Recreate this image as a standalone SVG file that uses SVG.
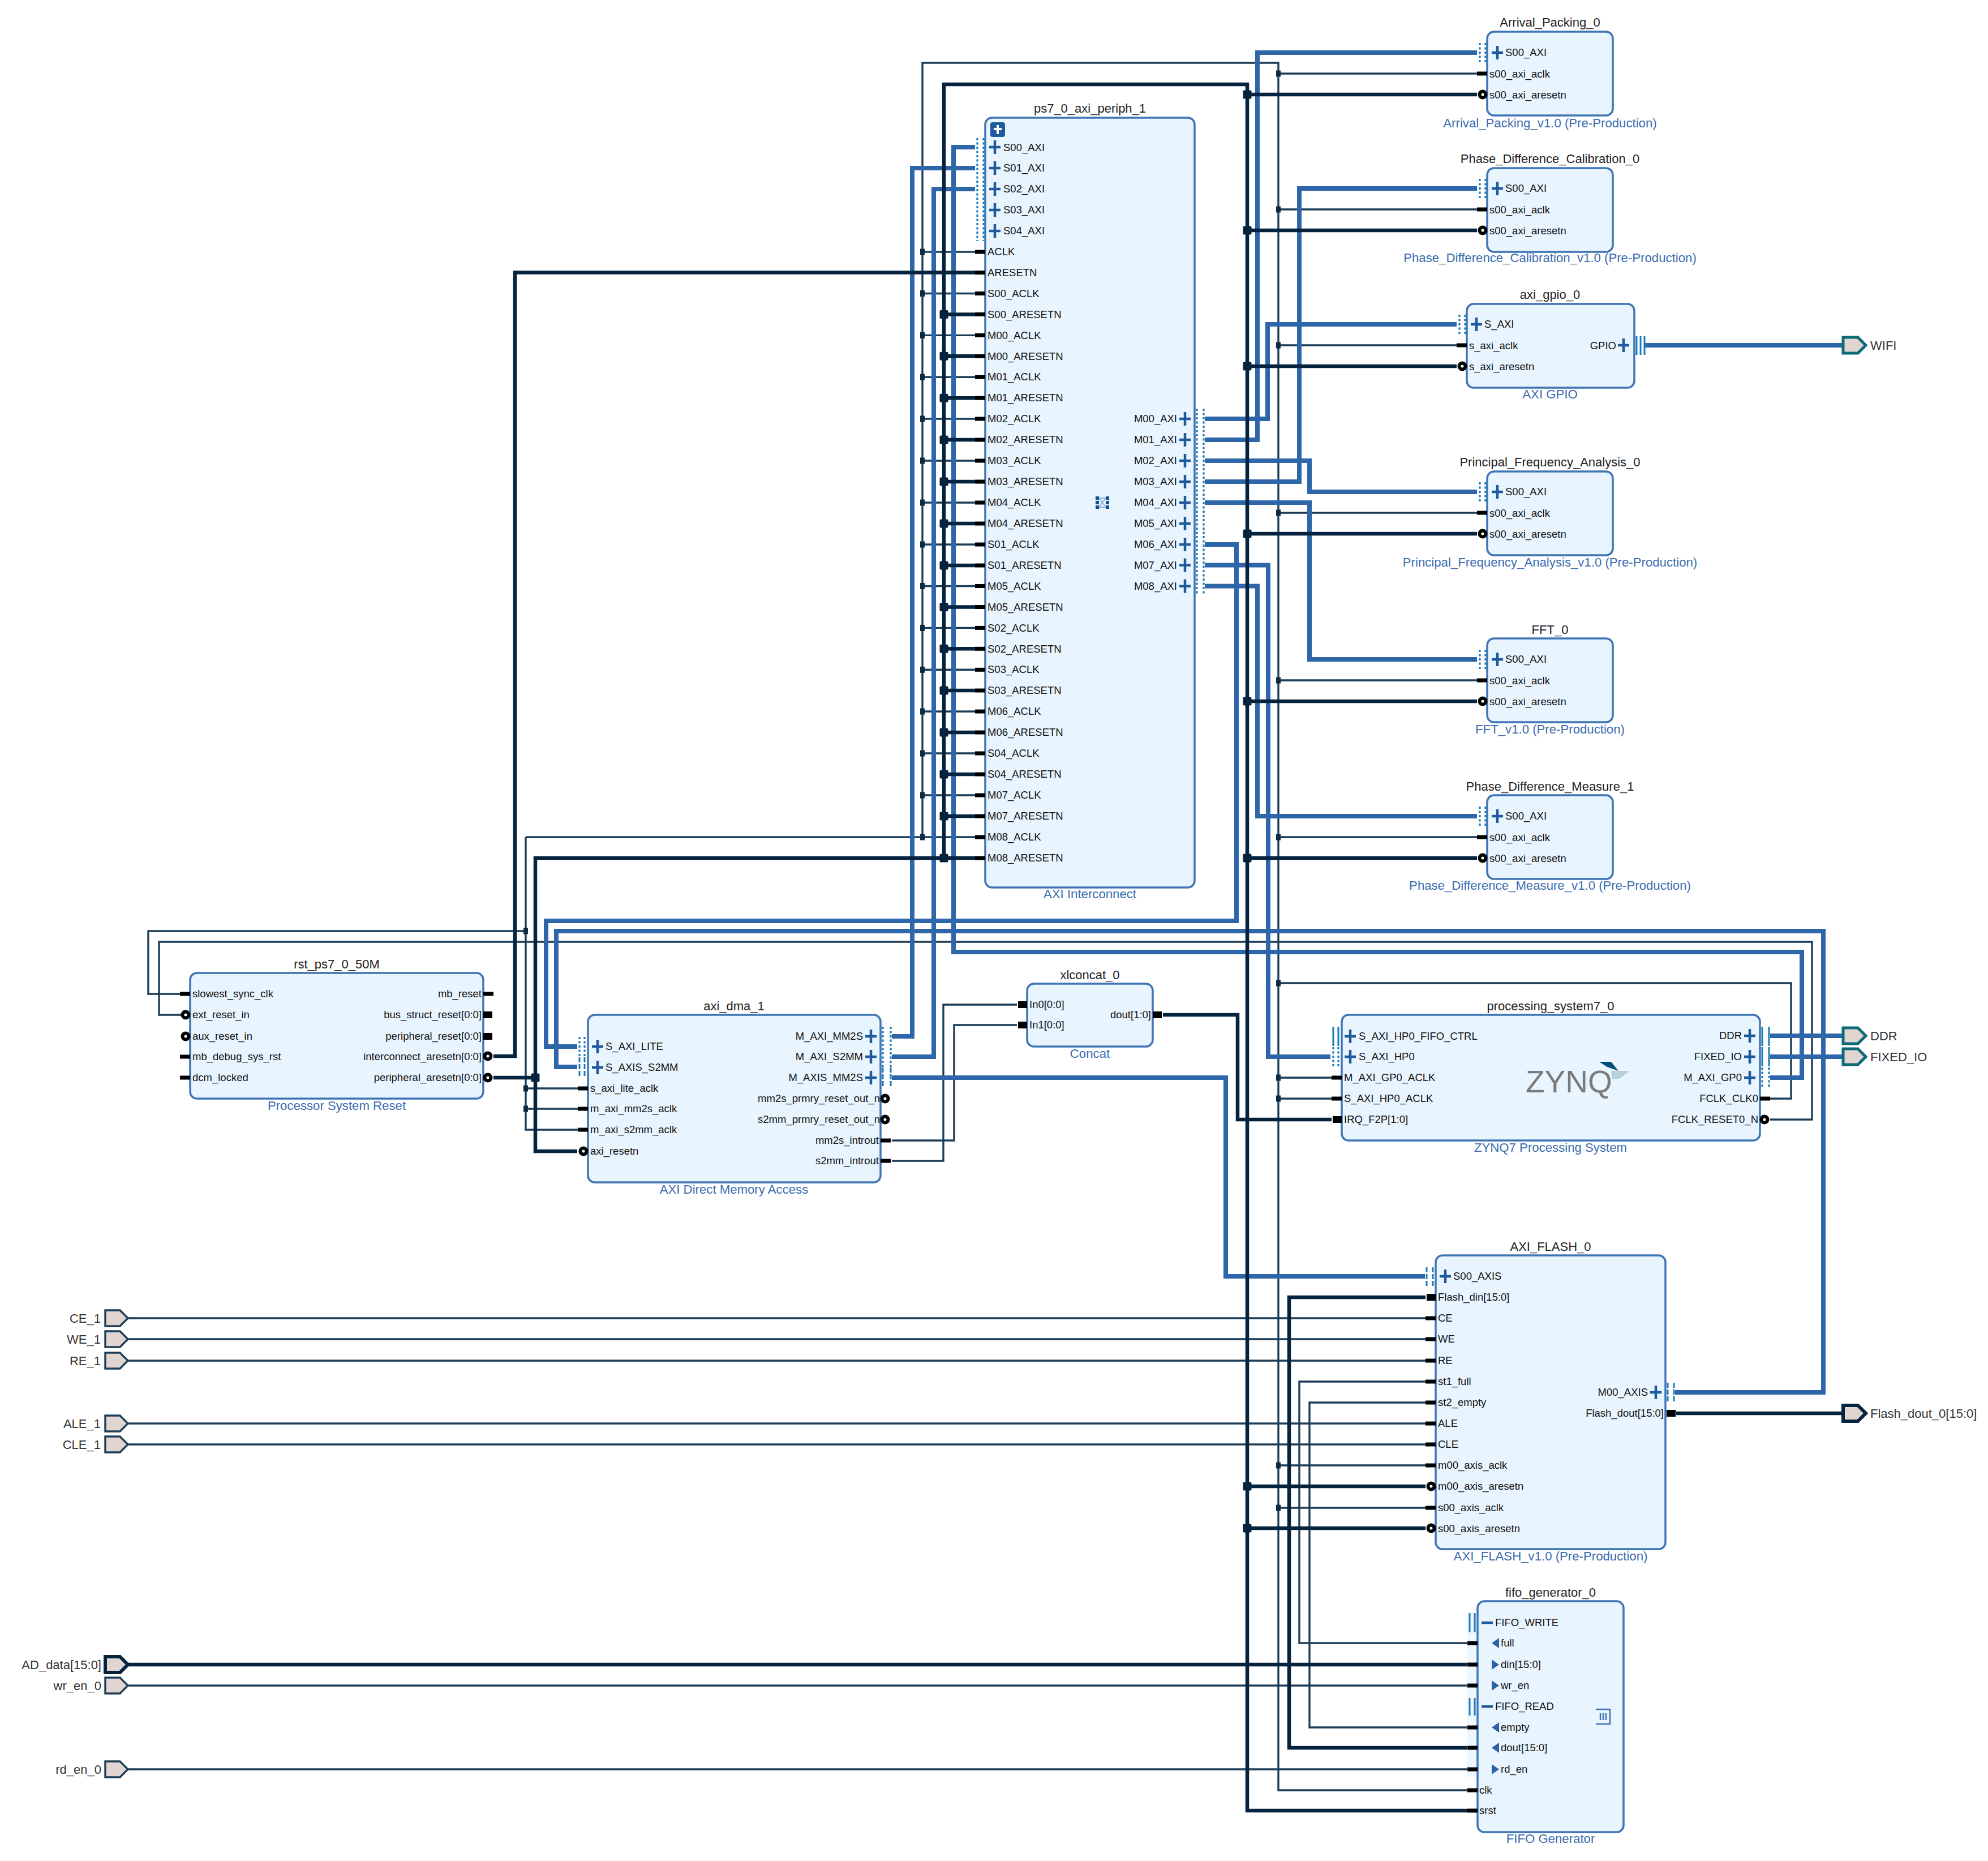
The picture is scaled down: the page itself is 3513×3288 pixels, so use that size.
<svg xmlns="http://www.w3.org/2000/svg" width="3513" height="3288" viewBox="0 0 3513 3288">
<style>
text{font-family:"Liberation Sans",Arial,sans-serif}
.box{fill:#e8f4fe;stroke:#3f74b5;stroke-width:3.5}
.t{font-size:22px;fill:#222;text-anchor:middle}
.s{font-size:22.2px;fill:#3b6cb0;text-anchor:middle}
.p{font-size:18.5px;fill:#111}
.e{text-anchor:end}
.x{font-size:22px;fill:#333}
.xe{font-size:22px;fill:#333;text-anchor:end}
.wires path{fill:none;stroke-linejoin:miter}
.b path{stroke:#2e66aa;stroke-width:8}
.n path{stroke:#1c3d57;stroke-width:3.4}
.k path{stroke:#04233f;stroke-width:6.5}
.pin{fill:#e0d5d0;stroke:#1c3d57;stroke-width:3.4}
.pinb{fill:#e0d5d0;stroke:#04233f;stroke-width:6}
.ping{fill:#e0d5d0;stroke:#0d6b78;stroke-width:5}
.dot{fill:none;stroke:#1a7ab8;stroke-width:3.2;stroke-dasharray:4 3.5}
.sol{fill:none;stroke:#1a7ab8;stroke-width:3}
.lad{fill:none;stroke:#1a7ab8;stroke-width:3;stroke-dasharray:9 3}
.pl{stroke:#1f5a9c;stroke-width:4.5;fill:none}
.tri{fill:#2a62a8}
</style>
<defs>
<rect id="sl" x="-18" y="-3.5" width="18" height="7" fill="#000"/>
<rect id="sr" x="0" y="-3.5" width="18" height="7" fill="#000"/>
<rect id="bl" x="-16" y="-6" width="16" height="12" fill="#000"/>
<rect id="br" x="0" y="-6" width="16" height="12" fill="#000"/>
<circle id="nl" cx="-8" cy="0" r="5.5" fill="#fff" stroke="#000" stroke-width="6"/>
<circle id="nr" cx="8" cy="0" r="5.5" fill="#fff" stroke="#000" stroke-width="6"/>
<path id="pl" class="pl" d="M-10 0H10M0-12V12"/>
<rect id="jn" x="-4" y="-5.5" width="8" height="11" fill="#0b2a44"/>
<rect id="jk" x="-7.5" y="-7.5" width="15" height="15" rx="2" fill="#04233f"/>
<path id="pn" d="M-20-14H6L20 0L6 14H-20Z"/>
<path id="tl" class="tri" d="M7-9V9L-6 0Z"/>
<path id="tr" class="tri" d="M-6-9V9L7 0Z"/>
</defs>

<g id="connectors" class="wires">
<g class="n">
<path d="M1630 1479V111H2259V3163H2593"/>
<path d="M1630 445H1723M1630 518.5H1723M1630 592.4H1723M1630 666.2H1723M1630 740H1723M1630 814H1723M1630 888H1723M1630 962H1723M1630 1035.5H1723M1630 1109.4H1723M1630 1183.3H1723M1630 1257H1723M1630 1331H1723M1630 1405H1723"/>
<path d="M929 1479H1723M929 1479V1996H1021M929 1923H1021M929 1959H1021"/>
<path d="M929 1645H262V1756H318"/>
<path d="M2259 1737H3165V1941H3128"/>
<path d="M2259 130H2610M2259 370H2610M2259 610H2574M2259 906H2610M2259 1202H2610M2259 1479H2610"/>
<path d="M2259 1904H2353M2259 1941H2353M2259 2589H2519M2259 2664H2519"/>
<path d="M3128 1978H3202V1664H281V1793H320"/>
<path d="M1576 2015H1686V1811H1797M1576 2051H1667V1775H1797"/>
<path d="M226 2329H2519M226 2366H2519M226 2404H2519M226 2515H2519M226 2552H2519"/>
<path d="M226 2978H2593M226 3126H2593"/>
<path d="M2519 2441H2296V2903H2593M2519 2478H2314V3052H2593"/>
</g>
<g class="b">
<path d="M2129 740H2240V573H2574"/>
<path d="M2129 777H2222V93H2610"/>
<path d="M2129 814H2314V869H2610"/>
<path d="M2129 851H2296V333H2610"/>
<path d="M2129 888H2314V1165H2610"/>
<path d="M2129 962H2185V1627H965V1849H1020"/>
<path d="M2129 998.5H2241V1867H2351"/>
<path d="M2129 1035.5H2222V1442H2610"/>
<path d="M1723 260H1685V1682H3184V1904H3128"/>
<path d="M1723 297H1612V1831H1576"/>
<path d="M1723 334H1650V1867H1576"/>
<path d="M1576 1904H2166V2255H2518"/>
<path d="M2960 2460H3222V1645H983V1885H1020"/>
<path d="M2907 610H3257M3128 1830H3257M3128 1867H3257"/>
</g>
<g class="k">
<path d="M872 1866H910V481.6H1723"/>
<path d="M872 1904H946V2034H1020M946 1904V1516H1723"/>
<path d="M1668 1516V149H2204V3199H2593"/>
<path d="M1668 555.4H1723M1668 629.3H1723M1668 703.2H1723M1668 777H1723M1668 851H1723M1668 925H1723M1668 999H1723M1668 1072.5H1723M1668 1146.3H1723M1668 1220H1723M1668 1294H1723M1668 1368H1723M1668 1442H1723"/>
<path d="M2204 167H2610M2204 407H2610M2204 647H2574M2204 943H2610M2204 1239H2610M2204 1516H2610M2204 2626H2519M2204 2700H2519"/>
<path d="M2055 1793H2187V1978H2353"/>
<path d="M2519 2292H2278V3088H2593"/>
<path d="M226 2941H2593"/>
<path d="M2962 2497H3257"/>
</g>
<g id="junctions">
<use href="#jn" x="1630" y="445"/><use href="#jn" x="1630" y="518.5"/><use href="#jn" x="1630" y="592.4"/><use href="#jn" x="1630" y="666.2"/><use href="#jn" x="1630" y="740"/><use href="#jn" x="1630" y="814"/><use href="#jn" x="1630" y="888"/><use href="#jn" x="1630" y="962"/><use href="#jn" x="1630" y="1035.5"/><use href="#jn" x="1630" y="1109.4"/><use href="#jn" x="1630" y="1183.3"/><use href="#jn" x="1630" y="1257"/><use href="#jn" x="1630" y="1331"/><use href="#jn" x="1630" y="1405"/><use href="#jn" x="1630" y="1479"/>
<use href="#jn" x="929" y="1645"/><use href="#jn" x="929" y="1923"/><use href="#jn" x="929" y="1959"/>
<use href="#jn" x="2259" y="130"/><use href="#jn" x="2259" y="370"/><use href="#jn" x="2259" y="610"/><use href="#jn" x="2259" y="906"/><use href="#jn" x="2259" y="1202"/><use href="#jn" x="2259" y="1479"/><use href="#jn" x="2259" y="1737"/><use href="#jn" x="2259" y="1904"/><use href="#jn" x="2259" y="1941"/><use href="#jn" x="2259" y="2589"/><use href="#jn" x="2259" y="2664"/>
<use href="#jk" x="1668" y="555.4"/><use href="#jk" x="1668" y="629.3"/><use href="#jk" x="1668" y="703.2"/><use href="#jk" x="1668" y="777"/><use href="#jk" x="1668" y="851"/><use href="#jk" x="1668" y="925"/><use href="#jk" x="1668" y="999"/><use href="#jk" x="1668" y="1072.5"/><use href="#jk" x="1668" y="1146.3"/><use href="#jk" x="1668" y="1220"/><use href="#jk" x="1668" y="1294"/><use href="#jk" x="1668" y="1368"/><use href="#jk" x="1668" y="1442"/><use href="#jk" x="1668" y="1516"/>
<use href="#jk" x="946" y="1904"/>
<use href="#jk" x="2204" y="167"/><use href="#jk" x="2204" y="407"/><use href="#jk" x="2204" y="647"/><use href="#jk" x="2204" y="943"/><use href="#jk" x="2204" y="1239"/><use href="#jk" x="2204" y="1516"/><use href="#jk" x="2204" y="2626"/><use href="#jk" x="2204" y="2700"/>
</g>
</g>

<g id="ps7_0_axi_periph_1">
<text class="t" x="1926" y="199">ps7_0_axi_periph_1</text>
<rect class="box" x="1741" y="208" width="370" height="1360" rx="12"/>
<rect x="1750" y="216" width="26" height="26" rx="4" fill="#1f5a9c"/><path d="M1763 221V237M1756 228H1770" stroke="#fff" stroke-width="4"/>
<path class="dot" d="M1727 244V426M1738 244V426"/>
<path class="dot" d="M2115 722V1052M2127 722V1052"/>
<use href="#pl" x="1758" y="260"/><use href="#pl" x="1758" y="297"/><use href="#pl" x="1758" y="334"/><use href="#pl" x="1758" y="371"/><use href="#pl" x="1758" y="408"/>
<g class="p">
<text x="1773" y="267">S00_AXI</text><text x="1773" y="303">S01_AXI</text><text x="1773" y="340">S02_AXI</text><text x="1773" y="377">S03_AXI</text><text x="1773" y="414">S04_AXI</text>
<text x="1745" y="451">ACLK</text><text x="1745" y="488">ARESETN</text><text x="1745" y="525">S00_ACLK</text><text x="1745" y="562">S00_ARESETN</text><text x="1745" y="599">M00_ACLK</text><text x="1745" y="636">M00_ARESETN</text><text x="1745" y="672">M01_ACLK</text><text x="1745" y="709">M01_ARESETN</text><text x="1745" y="746">M02_ACLK</text><text x="1745" y="783">M02_ARESETN</text><text x="1745" y="820">M03_ACLK</text><text x="1745" y="857">M03_ARESETN</text><text x="1745" y="894">M04_ACLK</text><text x="1745" y="931">M04_ARESETN</text><text x="1745" y="968">S01_ACLK</text><text x="1745" y="1005">S01_ARESETN</text><text x="1745" y="1042">M05_ACLK</text><text x="1745" y="1079">M05_ARESETN</text><text x="1745" y="1116">S02_ACLK</text><text x="1745" y="1153">S02_ARESETN</text><text x="1745" y="1189">S03_ACLK</text><text x="1745" y="1226">S03_ARESETN</text><text x="1745" y="1263">M06_ACLK</text><text x="1745" y="1300">M06_ARESETN</text><text x="1745" y="1337">S04_ACLK</text><text x="1745" y="1374">S04_ARESETN</text><text x="1745" y="1411">M07_ACLK</text><text x="1745" y="1448">M07_ARESETN</text><text x="1745" y="1485">M08_ACLK</text><text x="1745" y="1522">M08_ARESETN</text>
</g>
<g id="ps7_left_stubs">
<use href="#sl" x="1741" y="445"/><use href="#sl" x="1741" y="481.6"/><use href="#sl" x="1741" y="518.5"/><use href="#sl" x="1741" y="555.4"/><use href="#sl" x="1741" y="592.4"/><use href="#sl" x="1741" y="629.3"/><use href="#sl" x="1741" y="666.2"/><use href="#sl" x="1741" y="703.2"/><use href="#sl" x="1741" y="740"/><use href="#sl" x="1741" y="777"/><use href="#sl" x="1741" y="814"/><use href="#sl" x="1741" y="851"/><use href="#sl" x="1741" y="888"/><use href="#sl" x="1741" y="925"/><use href="#sl" x="1741" y="962"/><use href="#sl" x="1741" y="999"/><use href="#sl" x="1741" y="1035.5"/><use href="#sl" x="1741" y="1072.5"/><use href="#sl" x="1741" y="1109.4"/><use href="#sl" x="1741" y="1146.3"/><use href="#sl" x="1741" y="1183.3"/><use href="#sl" x="1741" y="1220"/><use href="#sl" x="1741" y="1257"/><use href="#sl" x="1741" y="1294"/><use href="#sl" x="1741" y="1331"/><use href="#sl" x="1741" y="1368"/><use href="#sl" x="1741" y="1405"/><use href="#sl" x="1741" y="1442"/><use href="#sl" x="1741" y="1479"/><use href="#sl" x="1741" y="1516"/>
</g>
<use href="#pl" x="2094" y="740"/><use href="#pl" x="2094" y="777"/><use href="#pl" x="2094" y="814"/><use href="#pl" x="2094" y="851"/><use href="#pl" x="2094" y="888"/><use href="#pl" x="2094" y="925"/><use href="#pl" x="2094" y="962"/><use href="#pl" x="2094" y="998.5"/><use href="#pl" x="2094" y="1035.5"/>
<g class="p" style="text-anchor:end">
<text x="2080" y="746">M00_AXI</text><text x="2080" y="783">M01_AXI</text><text x="2080" y="820">M02_AXI</text><text x="2080" y="857">M03_AXI</text><text x="2080" y="894">M04_AXI</text><text x="2080" y="931">M05_AXI</text><text x="2080" y="968">M06_AXI</text><text x="2080" y="1005">M07_AXI</text><text x="2080" y="1042">M08_AXI</text>
</g>
<g fill="#10508f"><rect x="1936" y="877" width="6" height="6"/><rect x="1954" y="877" width="6" height="6"/><rect x="1936" y="885" width="6" height="6"/><rect x="1954" y="885" width="6" height="6"/><rect x="1936" y="893" width="6" height="6"/><rect x="1954" y="893" width="6" height="6"/></g>
<path d="M1942 880H1954M1942 896H1954M1942 880L1954 896M1954 880L1942 896" stroke="#8fb2d6" stroke-width="2" fill="none"/>
<text class="s" x="1926" y="1587">AXI Interconnect</text>
</g>

<g id="Arrival_Packing_0">
<text class="t" x="2739" y="47">Arrival_Packing_0</text>
<rect class="box" x="2628" y="56" width="222" height="148" rx="12"/>
<path class="dot" d="M2615 76V111M2625 76V111"/>
<use href="#pl" x="2646" y="93"/><use href="#sl" x="2628" y="130"/><use href="#nl" x="2628" y="167"/>
<g class="p"><text x="2660" y="99">S00_AXI</text><text x="2632" y="137">s00_axi_aclk</text><text x="2632" y="174">s00_axi_aresetn</text></g>
<text class="s" x="2739" y="225">Arrival_Packing_v1.0 (Pre-Production)</text>
</g>

<g id="Phase_Difference_Calibration_0">
<text class="t" x="2739" y="288">Phase_Difference_Calibration_0</text>
<rect class="box" x="2628" y="297" width="222" height="148" rx="12"/>
<path class="dot" d="M2615 316V351M2625 316V351"/>
<use href="#pl" x="2646" y="333"/><use href="#sl" x="2628" y="370"/><use href="#nl" x="2628" y="407"/>
<g class="p"><text x="2660" y="339">S00_AXI</text><text x="2632" y="377">s00_axi_aclk</text><text x="2632" y="414">s00_axi_aresetn</text></g>
<text class="s" x="2739" y="463">Phase_Difference_Calibration_v1.0 (Pre-Production)</text>
</g>

<g id="axi_gpio_0">
<text class="t" x="2739" y="528">axi_gpio_0</text>
<rect class="box" x="2592" y="537" width="296" height="148" rx="12"/>
<path class="dot" d="M2579 556V591M2589 556V591"/>
<use href="#pl" x="2609" y="573"/><use href="#sl" x="2592" y="610"/><use href="#nl" x="2592" y="647"/>
<g class="p"><text x="2623" y="579">S_AXI</text><text x="2596" y="617">s_axi_aclk</text><text x="2596" y="654">s_axi_aresetn</text><text x="2856" y="617" style="text-anchor:end">GPIO</text></g>
<use href="#pl" x="2869" y="610"/>
<path class="sol" d="M2892 594V627M2899 594V627M2906 594V627"/>
<text class="s" x="2739" y="704">AXI GPIO</text>
</g>

<g id="Principal_Frequency_Analysis_0">
<text class="t" x="2739" y="824">Principal_Frequency_Analysis_0</text>
<rect class="box" x="2628" y="833" width="222" height="148" rx="12"/>
<path class="dot" d="M2615 852V887M2625 852V887"/>
<use href="#pl" x="2646" y="869"/><use href="#sl" x="2628" y="906"/><use href="#nl" x="2628" y="943"/>
<g class="p"><text x="2660" y="875">S00_AXI</text><text x="2632" y="913">s00_axi_aclk</text><text x="2632" y="950">s00_axi_aresetn</text></g>
<text class="s" x="2739" y="1001">Principal_Frequency_Analysis_v1.0 (Pre-Production)</text>
</g>

<g id="FFT_0">
<text class="t" x="2739" y="1120">FFT_0</text>
<rect class="box" x="2628" y="1128" width="222" height="148" rx="12"/>
<path class="dot" d="M2615 1148V1183M2625 1148V1183"/>
<use href="#pl" x="2646" y="1165"/><use href="#sl" x="2628" y="1202"/><use href="#nl" x="2628" y="1239"/>
<g class="p"><text x="2660" y="1171">S00_AXI</text><text x="2632" y="1209">s00_axi_aclk</text><text x="2632" y="1246">s00_axi_aresetn</text></g>
<text class="s" x="2739" y="1296">FFT_v1.0 (Pre-Production)</text>
</g>

<g id="Phase_Difference_Measure_1">
<text class="t" x="2739" y="1397">Phase_Difference_Measure_1</text>
<rect class="box" x="2628" y="1405" width="222" height="148" rx="12"/>
<path class="dot" d="M2615 1425V1460M2625 1425V1460"/>
<use href="#pl" x="2646" y="1442"/><use href="#sl" x="2628" y="1479"/><use href="#nl" x="2628" y="1516"/>
<g class="p"><text x="2660" y="1448">S00_AXI</text><text x="2632" y="1486">s00_axi_aclk</text><text x="2632" y="1523">s00_axi_aresetn</text></g>
<text class="s" x="2739" y="1572">Phase_Difference_Measure_v1.0 (Pre-Production)</text>
</g>

<g id="rst_ps7_0_50M">
<text class="t" x="595" y="1711">rst_ps7_0_50M</text>
<rect class="box" x="336" y="1719" width="518" height="222" rx="12"/>
<use href="#sl" x="336" y="1756"/><use href="#nl" x="336" y="1793"/><use href="#nl" x="336" y="1831"/><use href="#sl" x="336" y="1867"/><use href="#sl" x="336" y="1904"/>
<use href="#sr" x="854" y="1756"/><use href="#br" x="854" y="1793"/><use href="#br" x="854" y="1831"/><use href="#nr" x="854" y="1866"/><use href="#nr" x="854" y="1904"/>
<g class="p"><text x="340" y="1762">slowest_sync_clk</text><text x="340" y="1799">ext_reset_in</text><text x="340" y="1837">aux_reset_in</text><text x="340" y="1873">mb_debug_sys_rst</text><text x="340" y="1910">dcm_locked</text></g>
<g class="p" style="text-anchor:end"><text x="851" y="1762">mb_reset</text><text x="851" y="1799">bus_struct_reset[0:0]</text><text x="851" y="1837">peripheral_reset[0:0]</text><text x="851" y="1873">interconnect_aresetn[0:0]</text><text x="851" y="1910">peripheral_aresetn[0:0]</text></g>
<text class="s" x="595" y="1961">Processor System Reset</text>
</g>

<g id="axi_dma_1">
<text class="t" x="1297" y="1785">axi_dma_1</text>
<rect class="box" x="1039" y="1793" width="517" height="296" rx="12"/>
<path class="dot" d="M1024 1832V1867M1033 1832V1867"/><path class="lad" d="M1024 1868V1902M1033 1868V1902"/>
<path class="dot" d="M1560 1814V1885M1574 1814V1885"/><path class="lad" d="M1560 1886V1921M1574 1886V1921"/>
<use href="#pl" x="1056" y="1849"/><use href="#pl" x="1056" y="1886"/>
<use href="#sl" x="1039" y="1923"/><use href="#sl" x="1039" y="1959"/><use href="#sl" x="1039" y="1996"/><use href="#nl" x="1039" y="2034"/>
<g class="p"><text x="1070" y="1855">S_AXI_LITE</text><text x="1070" y="1892">S_AXIS_S2MM</text><text x="1043" y="1929">s_axi_lite_aclk</text><text x="1043" y="1965">m_axi_mm2s_aclk</text><text x="1043" y="2002">m_axi_s2mm_aclk</text><text x="1043" y="2040">axi_resetn</text></g>
<use href="#pl" x="1539" y="1831"/><use href="#pl" x="1539" y="1867"/><use href="#pl" x="1539" y="1904"/>
<g class="p" style="text-anchor:end"><text x="1525" y="1837">M_AXI_MM2S</text><text x="1525" y="1873">M_AXI_S2MM</text><text x="1525" y="1910">M_AXIS_MM2S</text><text x="1555" y="1947">mm2s_prmry_reset_out_n</text><text x="1555" y="1984">s2mm_prmry_reset_out_n</text><text x="1553" y="2021">mm2s_introut</text><text x="1553" y="2057">s2mm_introut</text></g>
<use href="#nr" x="1556" y="1941"/><use href="#nr" x="1556" y="1978"/><use href="#sr" x="1556" y="2015"/><use href="#sr" x="1556" y="2051"/>
<text class="s" x="1297" y="2109">AXI Direct Memory Access</text>
</g>

<g id="xlconcat_0">
<text class="t" x="1926" y="1730">xlconcat_0</text>
<rect class="box" x="1815" y="1738" width="222" height="111" rx="12"/>
<use href="#bl" x="1815" y="1775"/><use href="#bl" x="1815" y="1811"/><use href="#br" x="2037" y="1793"/>
<g class="p"><text x="1819" y="1781">In0[0:0]</text><text x="1819" y="1817">In1[0:0]</text><text x="2034" y="1799" style="text-anchor:end">dout[1:0]</text></g>
<text class="s" x="1926" y="1869">Concat</text>
</g>

<g id="processing_system7_0">
<text class="t" x="2740" y="1785">processing_system7_0</text>
<rect class="box" x="2371" y="1793" width="739" height="222" rx="12"/>
<path class="sol" d="M2356 1814V1848M2365 1814V1848"/><path class="dot" d="M2356 1850V1885M2365 1850V1885"/>
<use href="#pl" x="2386" y="1831"/><use href="#pl" x="2386" y="1867"/>
<use href="#sl" x="2371" y="1904"/><use href="#sl" x="2371" y="1941"/><use href="#bl" x="2371" y="1978"/>
<g class="p"><text x="2401" y="1837">S_AXI_HP0_FIFO_CTRL</text><text x="2401" y="1873">S_AXI_HP0</text><text x="2375" y="1910">M_AXI_GP0_ACLK</text><text x="2375" y="1947">S_AXI_HP0_ACLK</text><text x="2375" y="1984">IRQ_F2P[1:0]</text></g>
<use href="#pl" x="3092" y="1830"/><use href="#pl" x="3092" y="1867"/><use href="#pl" x="3092" y="1904"/>
<path class="sol" d="M3114 1814V1848M3126 1814V1848M3114 1850V1884M3126 1850V1884"/><path class="dot" d="M3114 1886V1921M3126 1886V1921"/>
<g class="p" style="text-anchor:end"><text x="3078" y="1836">DDR</text><text x="3078" y="1873">FIXED_IO</text><text x="3078" y="1910">M_AXI_GP0</text><text x="3107" y="1947">FCLK_CLK0</text><text x="3107" y="1984">FCLK_RESET0_N</text></g>
<use href="#sr" x="3110" y="1941"/><use href="#nr" x="3110" y="1978"/>
<text x="2696" y="1930" font-size="55" fill="#7a7a7a">ZYNQ</text>
<path d="M2826 1876H2847L2860 1892L2840 1885Z" fill="#004e78"/>
<path d="M2847 1892H2880L2862 1906H2849Z" fill="#b9cfdc"/>
<text class="s" x="2740" y="2035">ZYNQ7 Processing System</text>
</g>

<g id="AXI_FLASH_0">
<text class="t" x="2740" y="2210">AXI_FLASH_0</text>
<rect class="box" x="2537" y="2218" width="406" height="519" rx="12"/>
<path class="lad" d="M2521 2239V2272M2532 2239V2272"/>
<use href="#pl" x="2554" y="2255"/>
<use href="#bl" x="2537" y="2292"/><use href="#sl" x="2537" y="2329"/><use href="#sl" x="2537" y="2366"/><use href="#sl" x="2537" y="2404"/><use href="#sl" x="2537" y="2441"/><use href="#sl" x="2537" y="2478"/><use href="#sl" x="2537" y="2515"/><use href="#sl" x="2537" y="2552"/><use href="#sl" x="2537" y="2589"/><use href="#nl" x="2537" y="2626"/><use href="#sl" x="2537" y="2664"/><use href="#nl" x="2537" y="2700"/>
<g class="p"><text x="2568" y="2261">S00_AXIS</text><text x="2541" y="2298">Flash_din[15:0]</text><text x="2541" y="2335">CE</text><text x="2541" y="2372">WE</text><text x="2541" y="2410">RE</text><text x="2541" y="2447">st1_full</text><text x="2541" y="2484">st2_empty</text><text x="2541" y="2521">ALE</text><text x="2541" y="2558">CLE</text><text x="2541" y="2595">m00_axis_aclk</text><text x="2541" y="2632">m00_axis_aresetn</text><text x="2541" y="2670">s00_axis_aclk</text><text x="2541" y="2707">s00_axis_aresetn</text></g>
<use href="#pl" x="2926" y="2460"/>
<g class="p" style="text-anchor:end"><text x="2912" y="2466">M00_AXIS</text><text x="2940" y="2503">Flash_dout[15:0]</text></g>
<path class="lad" d="M2947 2443V2477M2958 2443V2477"/>
<use href="#br" x="2945" y="2497"/>
<text class="s" x="2740" y="2757">AXI_FLASH_v1.0 (Pre-Production)</text>
</g>

<g id="fifo_generator_0">
<text class="t" x="2740" y="2821">fifo_generator_0</text>
<rect x="2592" y="2850" width="19" height="290" fill="#eef7fe"/>
<rect class="box" x="2611" y="2829" width="258" height="408" rx="12"/>
<path class="sol" d="M2597 2850V2884M2606 2850V2884M2597 3000V3031M2606 3000V3031"/>
<path class="pl" d="M2618 2867H2638M2618 3015H2638"/>
<use href="#tl" x="2642" y="2903"/><use href="#tr" x="2642" y="2941"/><use href="#tr" x="2642" y="2978"/><use href="#tl" x="2642" y="3052"/><use href="#tl" x="2642" y="3088"/><use href="#tr" x="2642" y="3126"/>
<use href="#sl" x="2611" y="2903"/><use href="#sl" x="2611" y="2941"/><use href="#sl" x="2611" y="2978"/><use href="#sl" x="2611" y="3052"/><use href="#sl" x="2611" y="3088"/><use href="#sl" x="2611" y="3126"/><use href="#sl" x="2611" y="3163"/><use href="#sl" x="2611" y="3199"/>
<g class="p"><text x="2642" y="2873">FIFO_WRITE</text><text x="2652" y="2909">full</text><text x="2652" y="2947">din[15:0]</text><text x="2652" y="2984">wr_en</text><text x="2642" y="3021">FIFO_READ</text><text x="2652" y="3058">empty</text><text x="2652" y="3094">dout[15:0]</text><text x="2652" y="3132">rd_en</text><text x="2614" y="3169">clk</text><text x="2614" y="3205">srst</text></g>
<path d="M2820 3020H2845V3046H2820M2828 3027V3039M2833 3027V3039M2838 3027V3039" fill="none" stroke="#3f74b5" stroke-width="2.5"/>
<text class="s" x="2740" y="3256">FIFO Generator</text>
</g>

<g id="CE_1"><use href="#pn" class="pin" x="206" y="2329"/><text class="xe" x="178" y="2337">CE_1</text></g>
<g id="WE_1"><use href="#pn" class="pin" x="206" y="2366"/><text class="xe" x="178" y="2374">WE_1</text></g>
<g id="RE_1"><use href="#pn" class="pin" x="206" y="2404"/><text class="xe" x="178" y="2412">RE_1</text></g>
<g id="ALE_1"><use href="#pn" class="pin" x="206" y="2515"/><text class="xe" x="178" y="2523">ALE_1</text></g>
<g id="CLE_1"><use href="#pn" class="pin" x="206" y="2552"/><text class="xe" x="178" y="2560">CLE_1</text></g>
<g id="AD_data"><use href="#pn" class="pinb" x="206" y="2941"/><text class="xe" x="179" y="2949">AD_data[15:0]</text></g>
<g id="wr_en_0"><use href="#pn" class="pin" x="206" y="2978"/><text class="xe" x="179" y="2986">wr_en_0</text></g>
<g id="rd_en_0"><use href="#pn" class="pin" x="206" y="3126"/><text class="xe" x="179" y="3134">rd_en_0</text></g>
<g id="WIFI"><use href="#pn" class="ping" x="3277" y="610"/><text class="x" x="3305" y="618">WIFI</text></g>
<g id="DDR"><use href="#pn" class="ping" x="3277" y="1830"/><text class="x" x="3305" y="1838">DDR</text></g>
<g id="FIXED_IO"><use href="#pn" class="ping" x="3277" y="1867"/><text class="x" x="3305" y="1875">FIXED_IO</text></g>
<g id="Flash_dout_0"><use href="#pn" class="pinb" x="3277" y="2497"/><text class="x" x="3305" y="2505">Flash_dout_0[15:0]</text></g>
</svg>
